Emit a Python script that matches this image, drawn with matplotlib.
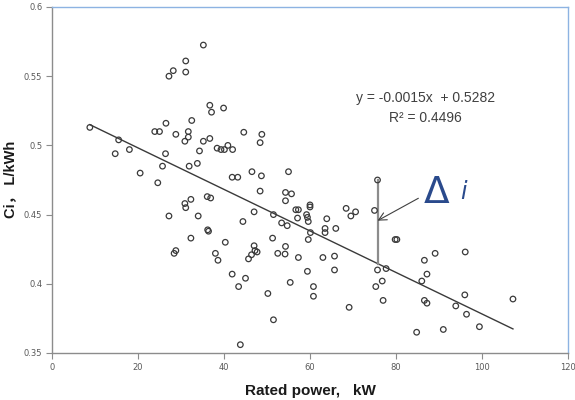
import matplotlib
matplotlib.use("Agg")
import matplotlib.pyplot as plt
import numpy as np

# Data
power_kw = [8.8, 14.7, 15.5, 18.0, 20.5, 23.9, 25.0, 24.6, 26.4, 25.7, 26.5, 27.2, 28.2, 28.8,
            27.2, 28.4, 28.8, 31.1, 31.1, 30.9, 31.7, 31.7, 31.9, 32.5, 30.9, 31.1, 32.3, 32.3,
            33.8, 34.3, 34.0, 35.2, 35.2, 36.7, 37.1, 36.7, 36.1, 36.9, 36.2, 36.4, 38.0, 38.6,
            39.9, 38.4, 39.3, 40.1, 40.9, 42.0, 40.3, 41.9, 43.2, 41.9, 43.4, 44.4, 45.0, 43.8,
            44.6, 45.7, 46.4, 47.0, 47.0, 47.2, 47.7, 46.5, 48.4, 48.4, 48.8, 48.7, 50.2, 51.3,
            51.5, 51.5, 52.5, 53.4, 54.3, 55.7, 54.3, 54.7, 54.3, 54.2, 55.4, 55.0, 56.7, 57.3,
            57.1, 57.3, 59.2, 59.4, 59.6, 60.0, 60.0, 60.1, 59.6, 59.4, 60.8, 60.8, 63.0, 63.5,
            63.5, 63.9, 65.7, 65.7, 66.0, 68.4, 69.5, 70.6, 69.1, 75.0, 75.7, 75.7, 77.7, 76.8,
            75.3, 77.0, 79.8, 80.2, 86.6, 89.1, 87.2, 86.0, 86.6, 87.2, 84.8, 91.0, 93.9, 96.1,
            96.0, 96.4, 99.4, 107.2]
ci = [0.513, 0.494, 0.504, 0.497, 0.480, 0.510, 0.510, 0.473, 0.494, 0.485, 0.516, 0.550, 0.554, 0.508,
      0.449, 0.422, 0.424, 0.561, 0.553, 0.503, 0.510, 0.506, 0.485, 0.518, 0.458, 0.455, 0.461, 0.433,
      0.487, 0.496, 0.449, 0.5725, 0.503, 0.529, 0.524, 0.505, 0.463, 0.462, 0.439, 0.438, 0.422, 0.417,
      0.527, 0.498, 0.497, 0.497, 0.500, 0.497, 0.430, 0.477, 0.477, 0.407, 0.398, 0.445, 0.404, 0.356,
      0.5095, 0.418, 0.421, 0.452, 0.4275, 0.424, 0.423, 0.481, 0.467, 0.502, 0.508, 0.478, 0.393, 0.433,
      0.450, 0.374, 0.422, 0.444, 0.466, 0.465, 0.460, 0.442, 0.427, 0.4215, 0.401, 0.481, 0.4535, 0.4535,
      0.4475, 0.419, 0.450, 0.448, 0.445, 0.457, 0.4555, 0.437, 0.432, 0.409, 0.398, 0.391, 0.419, 0.440,
      0.437, 0.447, 0.420, 0.410, 0.440, 0.4545, 0.449, 0.452, 0.383, 0.453, 0.475, 0.410, 0.411, 0.402,
      0.398, 0.388, 0.432, 0.432, 0.417, 0.422, 0.407, 0.402, 0.388, 0.386, 0.365, 0.367, 0.384, 0.423,
      0.392, 0.378, 0.369, 0.389]

slope = -0.0015
intercept = 0.5282
r2 = 0.4496
delta_x = 75.7
delta_top = 0.475

x_ticks = [0, 20, 40, 60, 80, 100, 120]
y_ticks = [0.35, 0.4, 0.45, 0.5, 0.55, 0.6]
y_tick_labels = ["0.35", "0.4", "0.45", "0.5", "0.55", "0.6"]

fig = plt.figure(figsize=(5.75, 4), dpi=100)
ax = fig.add_axes([52/575, 47/400, 516/575, 346/400])

x = np.array(power_kw)
y = np.array(ci)
ax.scatter(x, y, s=16, facecolors="none", edgecolors="#3a3a3a", linewidths=0.9, zorder=3)

xl = np.array([x.min(), x.max()])
ax.plot(xl, slope * xl + intercept, color="#3a3a3a", lw=1.0, zorder=2)

# vertical residual line
ax.plot([delta_x, delta_x], [delta_top, slope * delta_x + intercept], color="#8c8c8c", lw=1.6, zorder=2)

# arrow pointing to the residual
ax.annotate("", xy=(delta_x, 0.4456), xytext=(85.2, 0.4618),
            arrowprops=dict(arrowstyle="->", color="#404040", lw=0.8,
                            mutation_scale=14, shrinkA=0, shrinkB=0))
ax.text(89.5, 0.4656, "Δ", fontsize=27, color="#2a4a8c", ha="center", va="center",
        family="DejaVu Sans")
ax.text(95.6, 0.4665, "i", fontsize=17, color="#2a4a8c", ha="center", va="center",
        style="italic", family="DejaVu Sans")

ax.text(86.9, 0.5342, "y = -0.0015x  + 0.5282", fontsize=10, color="#404040",
        ha="center", va="center", family="Liberation Sans")
ax.text(86.9, 0.5198, "R² = 0.4496", fontsize=10, color="#404040",
        ha="center", va="center", family="Liberation Sans")

ax.set_xlim(0, 120)
ax.set_ylim(0.35, 0.6)
ax.set_xticks(x_ticks)
ax.set_yticks(y_ticks)
ax.set_yticklabels(y_tick_labels)
ax.tick_params(axis="both", direction="out", length=4, width=0.8, color="#8c8c8c",
               labelsize=6, labelcolor="#595959", pad=3)

for side in ["left", "bottom"]:
    ax.spines[side].set_color("#8c8c8c")
    ax.spines[side].set_linewidth(1.0)
for side in ["top", "right"]:
    ax.spines[side].set_color("#8db3e2")
    ax.spines[side].set_linewidth(1.0)

ax.set_xlabel("Rated power,   kW", fontsize=11, fontweight="bold", color="#1a1a1a",
              family="Liberation Sans", labelpad=9)
ax.set_ylabel("Ci， L/kWh", fontsize=10.5, fontweight="bold", color="#1a1a1a",
              family=["Liberation Sans", "Noto Sans CJK SC"])
ax.yaxis.set_label_coords(-0.068, 0.503)

fig.savefig("out.png", dpi=100)
